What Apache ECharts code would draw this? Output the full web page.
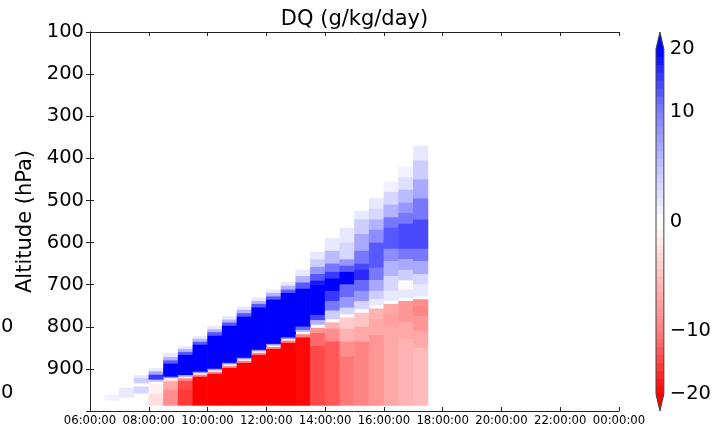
<!DOCTYPE html>
<html><head><meta charset="utf-8">
<script src="https://cdn.jsdelivr.net/npm/echarts@6/dist/echarts.min.js"></script>
<style>html,body{margin:0;padding:0;background:#fff}#c{width:714px;height:427px}</style>
</head><body><div id="c"></div>
<script>
// ---- data ----
// time-column centres (30-min columns)
const TIMES = ['06:15','06:45','07:15','07:45','08:15','08:45','09:15','09:45','10:15','10:45','11:15','11:45',
               '12:15','12:45','13:15','13:45','14:15','14:45','15:15','15:45','16:15','16:45','17:15'];
// DQ (g/kg/day) per column as layers: [top pressure hPa, bottom pressure hPa, value]
const LAYERS = [
 /*06:15*/[],
 /*06:45*/[[962,975,1]],
 /*07:15*/[[945,968,1.5]],
 /*07:45*/[[915,922,2],[922,934,4],[942,958,3]],
 /*08:15*/[[898,906,2],[906,914,7],[914,926,16],[926,931,4],[936,960,-1],[960,987,-2.5]],
 /*08:45*/[[862,872,2],[872,880,6],[880,888,13],[888,919,25],[919,922,8],[926,930,-3],[930,950,-7],[950,987,-9]],
 /*09:15*/[[846,853,2],[853,860,6],[860,867,13],[867,915,25],[915,918,8],[922,928,-8],[928,950,-14],[950,987,-16]],
 /*09:45*/[[822,829,2],[829,836,6],[836,843,13],[843,907,25],[907,910,8],[914,919,-10],[919,987,-25]],
 /*10:15*/[[798,806,2],[806,813,6],[813,821,13],[821,900,25],[900,903,8],[907,912,-10],[912,987,-25]],
 /*10:45*/[[775,783,2],[783,790,6],[790,798,13],[798,886,25],[886,889,8],[893,898,-10],[898,987,-25]],
 /*11:15*/[[752,760,2],[760,768,6],[768,776,13],[776,874,25],[874,877,8],[881,886,-10],[886,987,-25]],
 /*11:45*/[[731,739,2],[739,746,6],[746,754,13],[754,855,25],[855,858,8],[862,867,-10],[867,987,-25]],
 /*12:15*/[[712,720,2],[720,728,6],[728,736,13],[736,841,25],[841,844,8],[848,853,-10],[853,987,-25]],
 /*12:45*/[[694,703,2],[703,712,6],[712,720,13],[720,826,25],[826,829,8],[833,838,-10],[838,987,-25]],
 /*13:15*/[[665,680,2],[680,695,6],[695,710,13],[710,800,25],[800,808,12],[808,812,5],[818,825,-10],[825,987,-19]],
 /*13:45*/[[622,640,2],[640,658,4],[658,675,8],[675,690,13],[690,700,18],[700,772,25],[772,785,14],[785,795,6],
           [803,815,-8],[815,845,-12],[845,987,-15]],
 /*14:15*/[[590,620,1.5],[620,650,5],[650,670,10],[670,685,16],[685,715,22],[715,740,15],[740,762,10],[762,782,4],
           [790,805,-6],[805,835,-9],[835,987,-13]],
 /*14:45*/[[565,600,1.5],[600,640,3],[640,655,8],[655,670,13],[670,700,20],[700,730,12],[730,755,8],[755,770,3],
           [778,805,-4],[805,835,-6],[835,870,-9],[870,987,-11]],
 /*15:15*/[[525,545,1.5],[545,580,4],[580,620,7],[620,650,10],[650,665,14],[665,690,17],[690,715,12],[715,740,8],[740,758,3],
           [767,800,-4.5],[800,835,-6.5],[835,987,-9.5]],
 /*15:45*/[[495,520,1.5],[520,545,3],[545,570,6],[570,600,9],[600,660,13],[660,690,10],[690,715,7],[715,735,4],[735,749,1.5],
           [757,780,-6],[780,820,-7],[820,987,-8]],
 /*16:15*/[[455,480,1],[480,510,3],[510,540,6],[540,565,10],[565,615,13],[615,645,9],[645,680,6],[680,715,3],[715,738,1.5],
           [746,770,-7],[770,800,-7.5],[800,987,-7]],
 /*16:45*/[[420,445,1],[445,475,2.5],[475,505,5],[505,530,8],[530,555,11],[555,615,14],[615,640,10],[640,665,7],[665,690,4],
           [690,712,0.5],[712,732,2],[739,755,-8],[755,790,-8.5],[790,830,-7],[830,987,-6]],
 /*17:15*/[[370,405,1.5],[405,450,4],[450,495,7],[495,545,10],[545,615,14],[615,645,11],[645,675,7],[675,700,3],[700,728,1.5],
           [735,750,-9],[750,775,-10],[775,810,-8],[810,850,-6.5],[850,987,-5.5]]
];
const X_TICKS = ['06:00:00','08:00:00','10:00:00','12:00:00','14:00:00','16:00:00','18:00:00','20:00:00','22:00:00','00:00:00'];
const Y_TICKS = [100,200,300,400,500,600,700,800,900];
const CBAR_TICKS = [-20,-10,0,10,20];

// ---- colour scale (contour levels, bwr reversed: positive = blue) ----
const FONT = 'DejaVu Sans';
const LEVELS = [];
(function(){
  const segs = [[-20,-10,8],[-10,0,14],[0,10,14],[10,20,8]];
  segs.forEach(function(s){
    for (let j = 0; j < s[2]; j++) LEVELS.push(s[0] + (s[1]-s[0]) * j / s[2]);
  });
  LEVELS.push(20);
})();
const NB = LEVELS.length - 1;
function rgbFor(v){
  const s = Math.max(-1, Math.min(1, v / 20));
  let r, g, b;
  if (s >= 0) { r = g = Math.round(255*(1-s)); b = 255; }
  else { r = 255; g = b = Math.round(255*(1+s)); }
  return 'rgb(' + r + ',' + g + ',' + b + ')';
}
function bandColorIdx(i){ return rgbFor((LEVELS[i] + LEVELS[i+1]) / 2); }
function colorFor(v){
  if (v >= 20) return rgbFor(20);
  if (v <= -20) return rgbFor(-20);
  for (let i = 0; i < NB; i++) if (v >= LEVELS[i] && v < LEVELS[i+1]) return bandColorIdx(i);
  return rgbFor(v);
}
function hoursFrom6(s){ const p = s.split(':'); return (+p[0] + (+p[1])/60) - 6; }

const DT = hoursFrom6(TIMES[1]) - hoursFrom6(TIMES[0]);
const cells = [];
TIMES.forEach(function(t, ti){
  LAYERS[ti].forEach(function(L){ cells.push([hoursFrom6(t), L[0], L[1], L[2]]); });
});
const cbarData = [];
for (let i = 0; i < NB; i++) cbarData.push([0, i]);

const AX = '#222';
const chart = echarts.init(document.getElementById('c'), null, {renderer: 'canvas'});
chart.setOption({
  animation: false,
  backgroundColor: '#fff',
  textStyle: {fontFamily: FONT},
  grid: [
    {left: 90, top: 32, width: 529, height: 379},
    {left: 656, top: 49, width: 10, height: 345}
  ],
  xAxis: [
    {gridIndex: 0, type: 'value', min: 0, max: 18, interval: 2, position: 'bottom',
     axisLine: {lineStyle: {color: AX, width: 1}}, axisTick: {inside: true, length: 4, lineStyle: {color: AX}},
     splitLine: {show: false},
     axisLabel: {color: '#000', fontFamily: FONT, fontSize: 11.7, margin: 4, formatter: function(v){ return X_TICKS[Math.round(v/2)]; }}},
    {gridIndex: 0, type: 'value', min: 0, max: 18, interval: 2, position: 'top',
     axisLine: {lineStyle: {color: AX, width: 1}}, axisTick: {inside: true, length: 4, lineStyle: {color: AX}},
     splitLine: {show: false}, axisLabel: {show: false}},
    {gridIndex: 1, type: 'value', min: 0, max: 1, show: false}
  ],
  yAxis: [
    {gridIndex: 0, type: 'value', inverse: true, min: 100, max: 1000, interval: 100, position: 'left',
     name: 'Altitude (hPa)', nameLocation: 'middle', nameRotate: 90, nameGap: 49,
     nameTextStyle: {color: '#000', fontFamily: FONT, fontSize: 21},
     axisLine: {lineStyle: {color: AX, width: 1}}, axisTick: {inside: true, length: 4, lineStyle: {color: AX}},
     splitLine: {show: false},
     axisLabel: {color: '#000', fontFamily: FONT, fontSize: 19.5, margin: 6,
       formatter: function(v){ return Y_TICKS.indexOf(v) >= 0 ? String(v) : ''; }}},
    {gridIndex: 0, type: 'value', inverse: true, min: 100, max: 1000, interval: 100, position: 'right',
     axisLine: {lineStyle: {color: AX, width: 1}}, axisTick: {inside: true, length: 4, lineStyle: {color: AX}},
     splitLine: {show: false}, axisLabel: {show: false}},
    {gridIndex: 1, type: 'value', min: 0, max: NB, interval: 1, position: 'right',
     axisLine: {show: false}, axisTick: {show: false}, splitLine: {show: false},
     axisLabel: {color: '#000', fontFamily: FONT, fontSize: 19.5, margin: 6,
       formatter: function(i){
         const lv = Math.round(LEVELS[Math.round(i)] * 1000) / 1000;
         if (CBAR_TICKS.indexOf(lv) < 0) return '';
         return lv < 0 ? '\u2212' + Math.abs(lv) : String(lv);
       }}}
  ],
  graphic: [
    {type: 'text', x: 354.5, y: 20, style: {text: 'DQ (g/kg/day)', font: '21px "DejaVu Sans"', fill: '#000', textAlign: 'center', textVerticalAlign: 'middle'}},
    {type: 'text', x: 13.5, y: 327, style: {text: '0', font: '19.5px "DejaVu Sans"', fill: '#000', textAlign: 'right', textVerticalAlign: 'middle'}},
    {type: 'text', x: 13.5, y: 393, style: {text: '0', font: '19.5px "DejaVu Sans"', fill: '#000', textAlign: 'right', textVerticalAlign: 'middle'}}
  ],
  series: [
    {type: 'custom', xAxisIndex: 0, yAxisIndex: 0, clip: true, data: cells,
     encode: {x: 0, y: [1, 2]},
     renderItem: function(params, api){
       const v = api.value(3);
       if (v === 0) return;
       const t = api.value(0);
       const a = api.coord([t - DT/2, api.value(1)]);
       const b = api.coord([t + DT/2, api.value(2)]);
       const x0 = Math.min(a[0], b[0]), y0 = Math.min(a[1], b[1]);
       return {type: 'rect', shape: {x: x0 - 0.3, y: y0 - 0.15, width: Math.abs(b[0]-a[0]) + 0.6, height: Math.abs(b[1]-a[1]) + 0.3},
               style: {fill: colorFor(v)}};
     }},
    {type: 'custom', xAxisIndex: 2, yAxisIndex: 2, data: cbarData,
     renderItem: function(params, api){
       const i = api.value(1);
       const a = api.coord([0, i]), b = api.coord([1, i + 1]);
       return {type: 'rect', shape: {x: a[0], y: b[1] - 0.3, width: b[0] - a[0], height: a[1] - b[1] + 0.6},
               style: {fill: bandColorIdx(i)}};
     }},
    {type: 'custom', xAxisIndex: 2, yAxisIndex: 2, data: [[0, 0]],
     renderItem: function(params, api){
       const lo = api.coord([0, 0]), hi = api.coord([1, NB]);
       const x0 = lo[0], x1 = hi[0], yt = hi[1], yb = lo[1], xm = (x0 + x1) / 2, ah = 17;
       return {type: 'group', children: [
         {type: 'polygon', shape: {points: [[x0, yt], [x1, yt], [xm, yt - ah]]}, style: {fill: rgbFor(20)}},
         {type: 'polygon', shape: {points: [[x0, yb], [x1, yb], [xm, yb + ah]]}, style: {fill: rgbFor(-20)}},
         {type: 'polygon', shape: {points: [[x0, yt], [xm, yt - ah], [x1, yt], [x1, yb], [xm, yb + ah], [x0, yb]]},
          style: {fill: 'none', stroke: '#444', lineWidth: 1}}
       ]};
     }}
  ]
});
</script></body></html>
